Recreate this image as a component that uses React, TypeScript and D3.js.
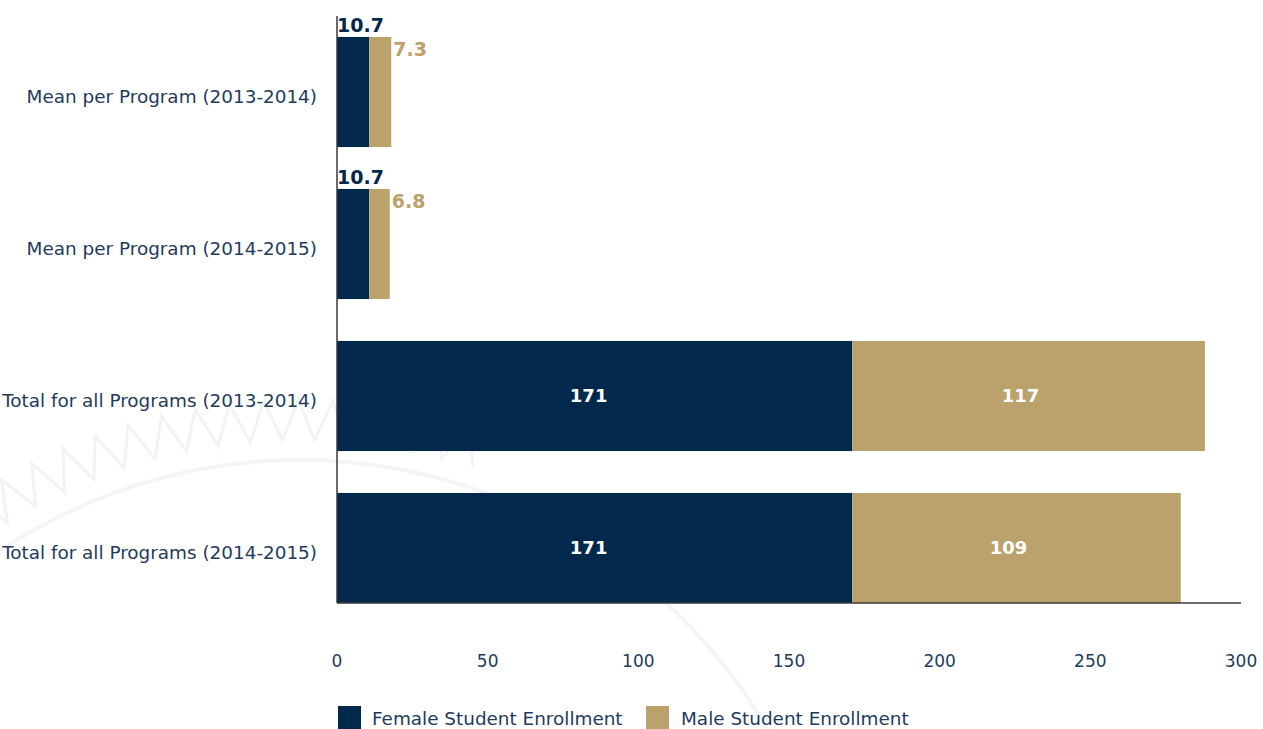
import React from "react";
import * as d3 from "d3";

const categories = [
  "Mean per Program (2013-2014)",
  "Mean per Program (2014-2015)",
  "Total for all Programs (2013-2014)",
  "Total for all Programs (2014-2015)",
];
const femaleValues = [10.7, 10.7, 171, 171];
const maleValues = [7.3, 6.8, 117, 109];
const xTicks = [0, 50, 100, 150, 200, 250, 300];
const seriesNames = ["Female Student Enrollment", "Male Student Enrollment"];

const W = 1263;
const H = 729;
const NAVY = "#02284B";
const GOLD = "#BBA16B";
const TEXT = "#1F3B5C";
const FONT = "'DejaVu Sans', sans-serif";

export default function App() {
  const x = d3.scaleLinear().domain([0, 300]).range([337, 1241]);
  const y = d3
    .scaleBand<string>()
    .domain(categories)
    .range([16, 624])
    .paddingInner(0.276)
    .paddingOuter(0.138);
  const bw = y.bandwidth();
  const axisBottom = (y(categories[3]) as number) + bw;

  const cx = 300, cy = 1000;
  const zig: string[] = [];
  const zr1 = 560, zr2 = 600;
  for (let i = 0; i <= 60; i++) {
    const a = Math.PI * 1.05 + (i / 60) * Math.PI * 0.55;
    const rr = i % 2 === 0 ? zr1 : zr2;
    zig.push(`${cx + rr * Math.cos(a)},${cy + rr * Math.sin(a)}`);
  }

  return (
    <svg width={W} height={H} style={{ position: "absolute", left: 0, top: 0, background: "#fff" }}>
      {/* faint watermark seal */}
      <g>
        <circle cx={cx} cy={cy} r={540} fill="none" stroke="#f4f5f7" strokeWidth={4} />
        <polyline points={zig.join(" ")} fill="none" stroke="#f2f3f5" strokeWidth={3} />
      </g>

      {/* bars */}
      {categories.map((c, i) => {
        const y0 = y(c) as number;
        return (
          <g key={c}>
            <rect x={x(0)} y={y0} width={x(femaleValues[i]) - x(0)} height={bw} fill={NAVY} />
            <rect
              x={x(femaleValues[i])}
              y={y0}
              width={x(femaleValues[i] + maleValues[i]) - x(femaleValues[i])}
              height={bw}
              fill={GOLD}
            />
          </g>
        );
      })}

      {/* axes */}
      <line x1={x(0)} x2={x(0)} y1={16} y2={axisBottom} stroke="#3a3a3a" strokeWidth={1.5} />
      <line x1={x(0)} x2={x(300)} y1={axisBottom} y2={axisBottom} stroke="#3a3a3a" strokeWidth={1.5} />

      {xTicks.map((t) => (
        <text key={t} x={x(t)} y={667} textAnchor="middle" fontFamily={FONT} fontSize={17} fill={TEXT}>
          {t}
        </text>
      ))}

      {categories.map((c) => (
        <text
          key={c}
          x={317}
          y={(y(c) as number) + bw / 2 + 11}
          textAnchor="end"
          fontFamily={FONT}
          fontSize={18.4}
          fill={TEXT}
        >
          {c}
        </text>
      ))}

      {/* data labels */}
      {categories.map((c, i) => {
        const y0 = y(c) as number;
        if (femaleValues[i] < 50) {
          return (
            <g key={c} fontFamily={FONT} fontSize={19} fontWeight={700}>
              <text x={x(0)} y={y0 - 5} fill={NAVY}>
                {femaleValues[i].toFixed(1)}
              </text>
              <text x={x(femaleValues[i] + maleValues[i]) + 2} y={y0 + 19} fill={GOLD}>
                {maleValues[i].toFixed(1)}
              </text>
            </g>
          );
        }
        return (
          <g key={c} fontFamily={FONT} fontSize={18} fontWeight={700} fill="#fff" textAnchor="middle">
            <text x={(x(0) + x(femaleValues[i])) / 2 - 6} y={y0 + bw / 2 + 6}>
              {femaleValues[i]}
            </text>
            <text x={(x(femaleValues[i]) + x(femaleValues[i] + maleValues[i])) / 2 - 8} y={y0 + bw / 2 + 6}>
              {maleValues[i]}
            </text>
          </g>
        );
      })}
      <text x={463} y={478} textAnchor="middle" fontFamily={FONT} fontSize={18} fontWeight={700} fill="#fff">
        25.5
      </text>

      {/* legend */}
      <rect x={338} y={706} width={23} height={23} fill={NAVY} />
      <text x={372} y={725} fontFamily={FONT} fontSize={18.4} fill={TEXT}>
        {seriesNames[0]}
      </text>
      <rect x={646} y={706} width={23} height={23} fill={GOLD} />
      <text x={681} y={725} fontFamily={FONT} fontSize={18.4} fill={TEXT}>
        {seriesNames[1]}
      </text>
    </svg>
  );
}
